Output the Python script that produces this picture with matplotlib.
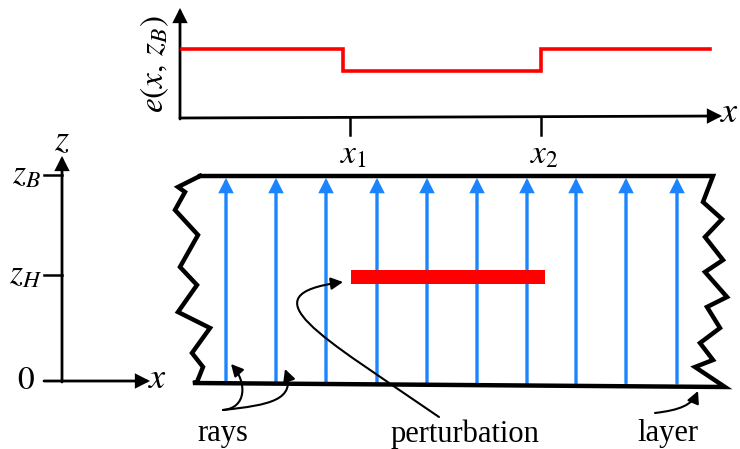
import matplotlib
matplotlib.use("Agg")
import matplotlib.pyplot as plt
from matplotlib.patches import FancyArrowPatch
from matplotlib.path import Path

plt.rcParams['mathtext.fontset'] = 'stix'
plt.rcParams['font.family'] = ['Liberation Serif', 'DejaVu Serif']

# ---------------- data (schematic, in figure-pixel units) ----------------
# top panel: step profile e(x, z_B)
step_x = [182, 343, 343, 541, 541, 710]
step_e = [49, 49, 71, 71, 49, 49]
tick_x = [350, 541]
tick_labels = [r'$x_1$', r'$x_2$']

# layer: rays positions
ray_x = [226, 276, 326, 377, 427, 477, 527, 576, 626, 677]
ray_bottom = 383
ray_top = 178

# perturbation bar
pert_left, pert_right, pert_z = 351, 545, 277

# layer outline (top edge, right rough edge, bottom edge, left rough edge)
layer_x = [200, 713, 703, 722, 705, 723, 705, 727, 707, 720, 700, 713, 695, 725,
           193, 197, 203, 192, 210, 178, 197, 180, 198, 175, 185, 178, 200]
layer_z = [176, 176, 202, 219, 237, 260, 272, 297, 307, 328, 343, 360, 367, 387,
           383, 382, 367, 353, 328, 312, 285, 267, 235, 210, 192, 187, 176]

# left axis ticks
z_ticks = [175, 275, 381]
z_labels = [r'$z_B$', r'$z_H$', r'$0$']

BLUE = '#1a85ff'
RED = '#ff0000'
MATH_FS = 24

fig = plt.figure(figsize=(7.4, 4.49), dpi=100)
ax = fig.add_axes([0, 0, 1, 1])
ax.set_xlim(0, 740)
ax.set_ylim(449, 0)
ax.axis('off')


def arrow_line(p0, p1, lw=2.0, color='k', ms=14):
    a = FancyArrowPatch(p0, p1, arrowstyle='-|>,head_length=0.55,head_width=0.28',
                        mutation_scale=ms, lw=lw, color=color,
                        shrinkA=0, shrinkB=0, joinstyle='miter')
    ax.add_patch(a)


def curve_arrow(pts, codes, lw=1.5):
    p = Path(pts, codes)
    a = FancyArrowPatch(path=p, arrowstyle='-|>,head_length=0.55,head_width=0.28',
                        mutation_scale=13, lw=lw, color='k')
    ax.add_patch(a)


# ---------------- top panel ----------------
arrow_line((180, 119), (180, 8))
arrow_line((180, 118), (722, 116))
ax.plot(step_x, step_e, color=RED, lw=2.6, solid_joinstyle='miter')
for tx, tl in zip(tick_x, tick_labels):
    ax.plot([tx, tx], [117, 135], color='k', lw=1.8)
    ax.text(tx + 3, 155, tl, fontsize=MATH_FS, ha='center', va='center')
ax.text(730, 114, r'$x$', fontsize=MATH_FS + 2, ha='center', va='center')
ax.text(155, 64, r'$e(x,\,z_B)$', fontsize=MATH_FS, rotation=90, ha='center', va='center')

# ---------------- left z axis ----------------
arrow_line((62, 382), (62, 156))
arrow_line((44, 381), (150, 381))
for zt, zl in zip(z_ticks[:2], z_labels[:2]):
    ax.plot([44, 62], [zt, zt], color='k', lw=1.8)
for zt, zl in zip(z_ticks, z_labels):
    ax.text(26, zt, zl, fontsize=MATH_FS, ha='center', va='center')
ax.text(62, 142, r'$z$', fontsize=MATH_FS + 2, ha='center', va='center')
ax.text(158, 380, r'$x$', fontsize=MATH_FS + 2, ha='center', va='center')

# ---------------- layer ----------------
for rx in ray_x:
    arrow_line((rx, ray_bottom), (rx, ray_top), lw=2.4, color=BLUE, ms=13)
ax.plot(layer_x, layer_z, color='k', lw=3.2, solid_joinstyle='miter',
        solid_capstyle='projecting')
ax.barh(pert_z, pert_right - pert_left, left=pert_left, height=14, color=RED)

# ---------------- annotations ----------------
C = [Path.MOVETO, Path.CURVE4, Path.CURVE4, Path.CURVE4]
curve_arrow([(223, 410), (247, 408), (247, 382), (231, 364)], C)
curve_arrow([(223, 410), (270, 405), (296, 400), (285, 369)], C)
curve_arrow([(439, 417), (320, 335), (245, 295), (343, 282)], C)
curve_arrow([(655, 413), (680, 410), (692, 405), (698, 391)], C)

ax.text(223, 434, 'rays', fontsize=22, ha='center', va='center')
ax.text(465, 434, 'perturbation', fontsize=22, ha='center', va='center')
ax.text(668, 434, 'layer', fontsize=22, ha='center', va='center')

fig.savefig('out.png', dpi=100)
